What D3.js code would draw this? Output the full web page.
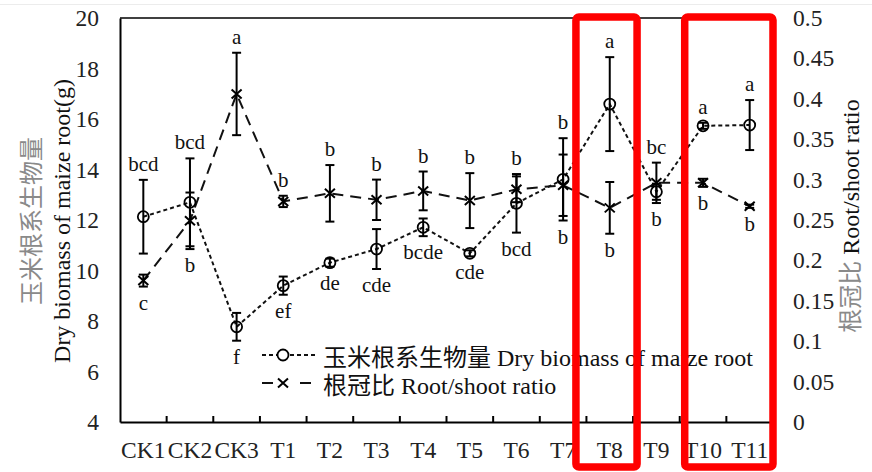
<!DOCTYPE html>
<html>
<head>
<meta charset="utf-8">
<script src="https://cdn.jsdelivr.net/npm/d3@7"></script>
<style>
  html, body { margin: 0; padding: 0; background: #fff; }
  svg { display: block; }
  text { font-family: "Liberation Serif", "Noto Sans CJK SC", serif; }
</style>
</head>
<body>
<svg id="chart" width="872" height="472"></svg>
<script>
// Treatments along the x axis
const categories = ["CK1","CK2","CK3","T1","T2","T3","T4","T5","T6","T7","T8","T9","T10","T11"];

// Dry biomass of maize root (g), left axis
const biomass    = [12.13, 12.70, 7.77, 9.40, 10.31, 10.85, 11.71, 10.68, 12.66, 13.61, 16.59, 13.12, 15.73, 15.76];
const biomassErr = [1.46, 1.74, 0.55, 0.36, 0.16, 0.79, 0.35, 0.12, 1.16, 1.63, 1.86, 0.32, 0.12, 0.99];
const biomassLetters = ["bcd","bcd","f","ef","de","cde","bcde","cde","bcd","b","a","bc","a","a"];
const biomassLetterSide = ["above","above","below","below","below","below","below","below","below","below","above","above","above","above"];

// Root/shoot ratio, right axis
const ratio    = [0.175, 0.249, 0.406, 0.273, 0.283, 0.275, 0.286, 0.274, 0.288, 0.293, 0.265, 0.296, 0.296, 0.267];
const ratioErr = [0.0074, 0.035, 0.051, 0.007, 0.035, 0.025, 0.024, 0.034, 0.016, 0.038, 0.032, 0.025, 0.005, 0.002];
const ratioLetters = ["c","b","a","b","b","b","b","b","b","b","b","b","b","b"];
const ratioLetterSide = ["below","below","above","above","above","above","above","above","above","above","below","below","below","below"];

// Axis ticks
const leftTicks = [4, 6, 8, 10, 12, 14, 16, 18, 20];
const rightTicks = [0, 0.05, 0.1, 0.15, 0.2, 0.25, 0.3, 0.35, 0.4, 0.45, 0.5];
const rightTickLabels = ["0","0.05","0.1","0.15","0.2","0.25","0.3","0.35","0.4","0.45","0.5"];

// Text
const leftTitleCn = "玉米根系生物量";
const leftTitleEn = "Dry biomass of maize root(g)";
const rightTitleCn = "根冠比";
const rightTitleEn = "Root/shoot ratio";
const legendBiomass = ["玉米根系生物量", "Dry biomass of maize root"];
const legendRatio = ["根冠比", "Root/shoot ratio"];

// Highlighted treatment groups
const highlightGroups = [["T8"], ["T10", "T11"]];

const svg = d3.select("#chart");
const plot = { left: 120, right: 773, top: 18, bottom: 422 };

const x = d3.scaleBand().domain(categories).range([plot.left, plot.right]).padding(0);
const yL = d3.scaleLinear().domain([4, 20]).range([plot.bottom, plot.top]);
const yR = d3.scaleLinear().domain([0, 0.5]).range([plot.bottom, plot.top]);
const cx = c => x(c) + x.bandwidth() / 2;

// faint rule across the very top
svg.append("line").attr("x1", 0).attr("x2", 872).attr("y1", 4.5).attr("y2", 4.5)
  .attr("stroke", "#ececec").attr("stroke-width", 1);

// top frame line
svg.append("line").attr("x1", plot.left).attr("x2", plot.right)
  .attr("y1", plot.top).attr("y2", plot.top).attr("stroke", "#000").attr("stroke-width", 1.6);

// Left axis
const gL = svg.append("g").attr("transform", `translate(${plot.left},0)`)
  .call(d3.axisLeft(yL).tickValues(leftTicks).tickSize(0).tickPadding(21).tickFormat(d3.format("d")));
gL.select(".domain").attr("stroke", "#000").attr("stroke-width", 2);
gL.selectAll("text").attr("font-size", 23.5).attr("fill", "#222")
  .style("font-family", "'Liberation Serif', serif");

// Right axis (labels only)
const gR = svg.append("g").attr("transform", `translate(${plot.right},0)`)
  .call(d3.axisRight(yR).tickValues(rightTicks).tickSize(0).tickPadding(20)
    .tickFormat((d, i) => rightTickLabels[i]));
gR.select(".domain").remove();
gR.selectAll("text").attr("font-size", 23.5).attr("fill", "#222")
  .style("font-family", "'Liberation Serif', serif");

// Bottom axis with inward ticks at category boundaries
const gB = svg.append("g").attr("transform", `translate(0,${plot.bottom})`)
  .call(d3.axisBottom(x).tickSize(0).tickPadding(19));
gB.select(".domain").attr("stroke", "#000").attr("stroke-width", 2);
gB.selectAll("text").attr("font-size", 23.5).attr("fill", "#222")
  .style("font-family", "'Liberation Serif', serif");
gB.selectAll("line.bound").data(categories.slice(1)).enter().append("line")
  .attr("class", "bound")
  .attr("x1", d => x(d)).attr("x2", d => x(d))
  .attr("y1", 0).attr("y2", -6).attr("stroke", "#000").attr("stroke-width", 2);

// Axis titles
const lt = svg.append("g").attr("transform", `translate(32,${221}) rotate(-90)`);
lt.append("text").attr("text-anchor", "middle").attr("dy", "0.35em")
  .attr("font-size", 24).attr("fill", "#8a8a8a").text(leftTitleCn);
const lt2 = svg.append("g").attr("transform", `translate(62,${221}) rotate(-90)`);
lt2.append("text").attr("text-anchor", "middle").attr("dy", "0.35em")
  .attr("font-size", 24).attr("fill", "#111").text(leftTitleEn);

const rt = svg.append("g").attr("transform", `translate(851,${216}) rotate(-90)`)
  .append("text").attr("text-anchor", "middle").attr("dy", "0.35em").attr("font-size", 24);
rt.append("tspan").attr("fill", "#8a8a8a").text(rightTitleCn + " ");
rt.append("tspan").attr("fill", "#111").text(rightTitleEn);

// Series lines
const biomassLine = d3.line().x((d, i) => cx(categories[i])).y(d => yL(d));
const ratioLine = d3.line().x((d, i) => cx(categories[i])).y(d => yR(d));

svg.append("path").datum(ratio).attr("d", ratioLine).attr("fill", "none")
  .attr("stroke", "#111").attr("stroke-width", 2).attr("stroke-dasharray", "11,7");
svg.append("path").datum(biomass).attr("d", biomassLine).attr("fill", "none")
  .attr("stroke", "#111").attr("stroke-width", 2).attr("stroke-dasharray", "4,3");

// Error bars
function errorBars(values, errs, scale) {
  const g = svg.append("g").attr("stroke", "#000").attr("stroke-width", 2);
  values.forEach((v, i) => {
    const px = cx(categories[i]);
    const top = scale(v + errs[i]), bot = scale(v - errs[i]);
    g.append("line").attr("x1", px).attr("x2", px).attr("y1", top).attr("y2", bot);
    g.append("line").attr("x1", px - 4.5).attr("x2", px + 4.5).attr("y1", top).attr("y2", top);
    g.append("line").attr("x1", px - 4.5).attr("x2", px + 4.5).attr("y1", bot).attr("y2", bot);
  });
}
errorBars(ratio, ratioErr, yR);
errorBars(biomass, biomassErr, yL);

// Markers
svg.append("g").selectAll("path").data(ratio).enter().append("path")
  .attr("d", (d, i) => {
    const px = cx(categories[i]), py = yR(d), s = 5, t = 4.5;
    return `M${px - s},${py - t}L${px + s},${py + t}M${px - s},${py + t}L${px + s},${py - t}`;
  })
  .attr("stroke", "#000").attr("stroke-width", 2).attr("fill", "none");
svg.append("g").selectAll("circle").data(biomass).enter().append("circle")
  .attr("cx", (d, i) => cx(categories[i])).attr("cy", d => yL(d)).attr("r", 5.5)
  .attr("fill", "none").attr("stroke", "#000").attr("stroke-width", 1.8);

// Significance letters, placed clear of both error bars in the category
function extents(i) {
  const tops = [yL(biomass[i] + biomassErr[i]), yR(ratio[i] + ratioErr[i])];
  const bots = [yL(biomass[i] - biomassErr[i]), yR(ratio[i] - ratioErr[i])];
  return { top: Math.min(...tops), bot: Math.max(...bots) };
}
function letters(labels, sides) {
  svg.append("g").selectAll("text").data(labels).enter().append("text")
    .attr("x", (d, i) => cx(categories[i]))
    .attr("y", (d, i) => {
      const e = extents(i);
      return sides[i] === "above" ? e.top - 9 : e.bot + 23;
    })
    .attr("text-anchor", "middle").attr("font-size", 21).attr("fill", "#111")
    .style("font-family", "'Liberation Serif', serif")
    .text(d => d);
}
letters(biomassLetters, biomassLetterSide);
letters(ratioLetters, ratioLetterSide);

// Legend
const lg = svg.append("g");
const lx0 = 262, lx1 = 318, ly1 = 355, ly2 = 383;
lg.append("line").attr("x1", lx0).attr("x2", lx1).attr("y1", ly1).attr("y2", ly1)
  .attr("stroke", "#111").attr("stroke-width", 2).attr("stroke-dasharray", "4,3");
lg.append("circle").attr("cx", 283).attr("cy", ly1).attr("r", 5.5)
  .attr("fill", "#fff").attr("stroke", "#000").attr("stroke-width", 1.8);
lg.append("line").attr("x1", lx0).attr("x2", 273).attr("y1", ly2).attr("y2", ly2)
  .attr("stroke", "#111").attr("stroke-width", 2);
lg.append("line").attr("x1", 300).attr("x2", 311).attr("y1", ly2).attr("y2", ly2)
  .attr("stroke", "#111").attr("stroke-width", 2);
lg.append("path").attr("d", `M278,${ly2 - 4.5}L288,${ly2 + 4.5}M278,${ly2 + 4.5}L288,${ly2 - 4.5}`)
  .attr("stroke", "#000").attr("stroke-width", 2);
lg.append("text").attr("x", 323).attr("y", 366).attr("font-size", 24).attr("fill", "#111")
  .text(legendBiomass.join(" "));
lg.append("text").attr("x", 323).attr("y", 394).attr("font-size", 24).attr("fill", "#111")
  .text(legendRatio.join(" "));

// Red highlight frames around selected treatments
const pads = [[10.5, 4], [-5, 0]];
highlightGroups.forEach((grp, k) => {
  const x0 = x(grp[0]) - pads[k][0];
  const x1 = x(grp[grp.length - 1]) + x.bandwidth() + pads[k][1];
  svg.append("rect").attr("x", x0).attr("y", 17).attr("width", x1 - x0).attr("height", 450)
    .attr("rx", 3).attr("fill", "none").attr("stroke", "#ff0000").attr("stroke-width", 7.5);
});
</script>
</body>
</html>
